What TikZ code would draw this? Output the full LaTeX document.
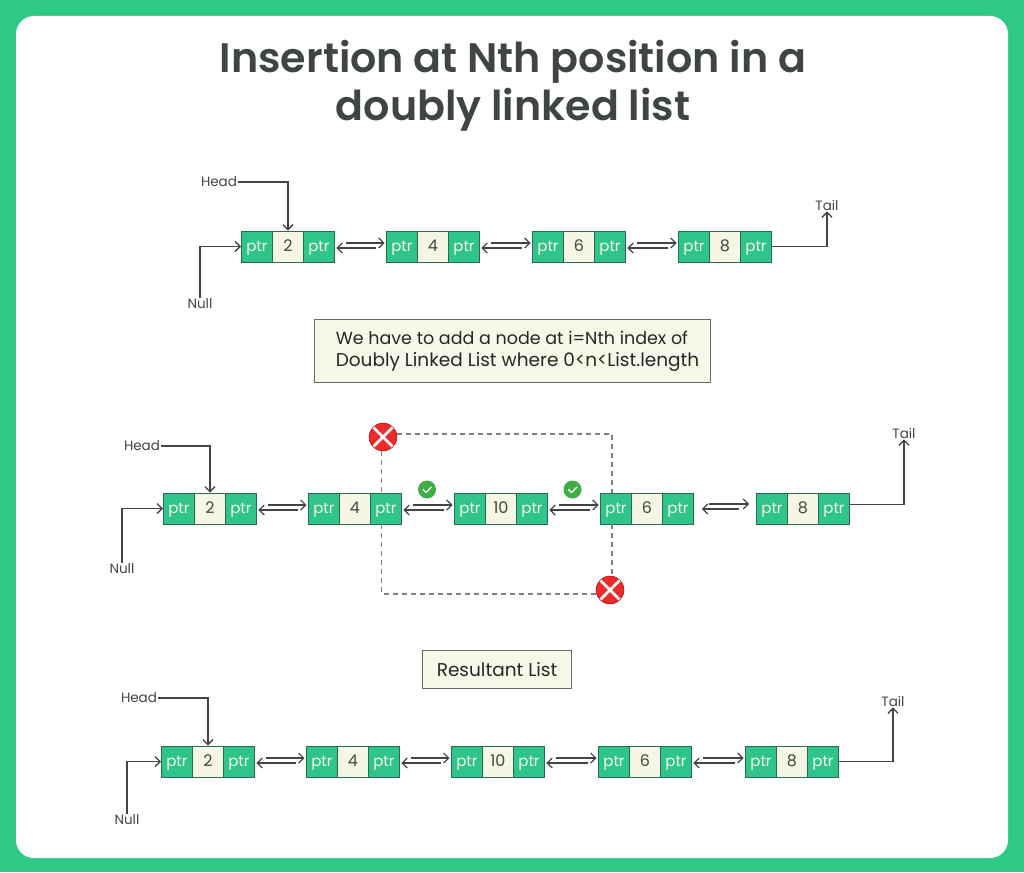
\documentclass[tikz,border=0pt]{standalone}
\usepackage{fontspec}
\setmainfont{Poppins}
\newfontfamily\titlefont{Poppins SemiBold}
\usetikzlibrary{arrows.meta,calc,positioning}
\definecolor{bggreen}{HTML}{2FC986}
\definecolor{cellgreen}{HTML}{2EC48A}
\definecolor{cream}{HTML}{F6F6E4}
\definecolor{edgeg}{HTML}{2A6A50}
\definecolor{ink}{HTML}{444444}
\definecolor{titleink}{HTML}{3F4444}
\definecolor{redx}{HTML}{EE2A2A}
\definecolor{okgreen}{HTML}{3FAE49}
\tikzset{
  cell/.style={draw=edgeg,line width=0.9pt,minimum height=31pt,inner sep=0pt,anchor=west,font=\fontsize{15}{15}\selectfont,text height=10.5pt,text depth=0.5pt},
  ptrcell/.style={cell,fill=cellgreen,text=cream,minimum width=31pt},
  valcell/.style={cell,fill=cream,text=ink,minimum width=31pt,font=\fontsize{16}{16}\selectfont},
  lbl/.style={text=ink,inner sep=1pt,font=\fontsize{13.5}{13.5}\selectfont},
  conn/.style={draw=ink,line width=1.4pt,-{Straight Barb[length=5pt,width=10pt,line width=1.3pt]}},
  link/.style={draw=ink,line width=1.2pt,-{Straight Barb[length=5pt,width=10pt,line width=1.2pt]}},
  note/.style={draw=ink!80!cream,line width=0.8pt,fill=cream!80!white,text=black!85,inner sep=0pt,font=\fontsize{18.5}{21.5}\selectfont},
  dashline/.style={draw=gray,line width=1.1pt,dash pattern=on 5pt off 4pt},
  badx/.style={circle,fill=redx,draw=red!50!black,line width=0.4pt,minimum size=28pt,inner sep=0pt},
  okdot/.style={circle,fill=okgreen,minimum size=18pt,inner sep=0pt},
}
\newcommand{\lnode}[4]{%
  \node[ptrcell] (#1l) at (#2,#3) {ptr};
  \node[valcell] (#1v) at (#2+31,#3) {#4};
  \node[ptrcell] (#1r) at (#2+62,#3) {ptr};
}
\newcommand{\dbl}[4]{%
  \draw[link,shorten <=#3pt,shorten >=1.5pt] ([yshift=3.5pt]#1r.east) -- ([yshift=3.5pt]#2l.west);
  \draw[link,shorten <=#4pt,shorten >=1.5pt] ([yshift=-1.5pt]#2l.west) -- ([yshift=-1.5pt]#1r.east);
}
\newcommand{\xmark}[1]{%
  \draw[white,line width=2.6pt] ($(#1)+(-9.5,-9.5)$) -- ($(#1)+(9.5,9.5)$);
  \draw[white,line width=2.6pt] ($(#1)+(-9.5,9.5)$) -- ($(#1)+(9.5,-9.5)$);
}
\newcommand{\okmark}[1]{%
  \draw[white,line width=1.3pt,line cap=round,line join=round] ($(#1)+(-4,0)$) -- ($(#1)+(-1,3)$) -- ($(#1)+(4.5,-2.5)$);
}
\begin{document}
\begin{tikzpicture}[x=1pt,y=-1pt]
\useasboundingbox (0,0) rectangle (1024,872);
\fill[bggreen] (0,0) rectangle (1024,872);
\fill[white,rounded corners=18pt] (16,16) rectangle (1008,858);
\node[text=titleink,align=center,inner sep=0pt,font=\titlefont\fontsize{41.2}{48}\selectfont] (title) at (513,86) {Insertion at Nth position in a\\doubly linked list};

% first row
\lnode{a}{241}{246.5}{2}
\lnode{b}{386}{246.5}{4}
\lnode{c}{532}{246.5}{6}
\lnode{d}{678}{246.5}{8}
\dbl{a}{b}{11}{10}
\dbl{b}{c}{11}{10}
\dbl{c}{d}{11}{10}
\node[lbl] (ahead) at (219,182) {Head};
\node[lbl] (anull) at (200,304) {Null};
\node[lbl] (atail) at (827,205) {Tail};
\draw[conn] (ahead.east) -| (av.north);
\draw[conn] (anull.north) |- (al.west);
\draw[conn] (dr.east) -| (atail.south);

\node[note,minimum width=396pt,minimum height=63pt] (info) at (512.5,351) {\begin{tabular}{@{\hspace{10pt}}l@{}}{\fontsize{17.5}{21.5}\selectfont We have to add a node at i=Nth index of}\\Doubly Linked List where 0<n<List.length\end{tabular}};

% second row
\lnode{e}{163}{508.5}{2}
\lnode{f}{308}{508.5}{4}
\lnode{g}{454}{508.5}{10}
\lnode{h}{600}{508.5}{6}
\lnode{i}{756}{508.5}{8}
\dbl{e}{f}{11}{10}
\dbl{f}{g}{11}{10}
\dbl{g}{h}{11}{10}
\draw[link,shorten <=15pt,shorten >=7pt] ([yshift=4.5pt]hr.east) -- ([yshift=4.5pt]il.west);
\draw[link,shorten <=17pt,shorten >=8pt] ([yshift=-0.5pt]il.west) -- ([yshift=-0.5pt]hr.east);
\node[lbl] (ehead) at (142,446) {Head};
\node[lbl] (enull) at (122,569) {Null};
\node[lbl] (etail) at (904,433) {Tail};
\draw[conn] (ehead.east) -| (ev.north);
\draw[conn] (enull.north) |- (el.west);
\draw[conn] ([yshift=4pt]ir.east) -| (etail.south);

\node[badx] (x1) at (383,437) {};
\node[badx] (x2) at (610,590) {};
\xmark{x1}
\xmark{x2}
\node[okdot] (ok1) at (427,489.5) {};
\node[okdot] (ok2) at (572.5,489.5) {};
\okmark{ok1}
\okmark{ok2}
\coordinate (tr) at (612,434);
\coordinate (bl) at (381.5,594);
\draw[dashline] (x1.east |- tr) -- (tr) -- (hl.north -| tr);
\draw[dashline] (x1.south -| bl) -- (fr.north -| bl);
\draw[dashline] (fr.south -| bl) -- (bl) -- (x2.west |- bl);
\draw[dashline] (hl.south -| tr) -- (x2.north -| tr);

\node[note,minimum width=149pt,minimum height=38pt] (res) at (497,669.5) {Resultant List};

% third row
\lnode{j}{161}{761.5}{2}
\lnode{k}{306}{761.5}{4}
\lnode{m}{451}{761.5}{10}
\lnode{n}{598}{761.5}{6}
\lnode{p}{745}{761.5}{8}
\dbl{j}{k}{11}{10}
\dbl{k}{m}{11}{10}
\dbl{m}{n}{11}{10}
\dbl{n}{p}{11}{10}
\node[lbl] (jhead) at (139,698) {Head};
\node[lbl] (jnull) at (127,820) {Null};
\node[lbl] (jtail) at (893,701) {Tail};
\draw[conn] (jhead.east) -| (jv.north);
\draw[conn] (jnull.north) |- (jl.west);
\draw[conn] (pr.east) -| (jtail.south);
\end{tikzpicture}
\end{document}
